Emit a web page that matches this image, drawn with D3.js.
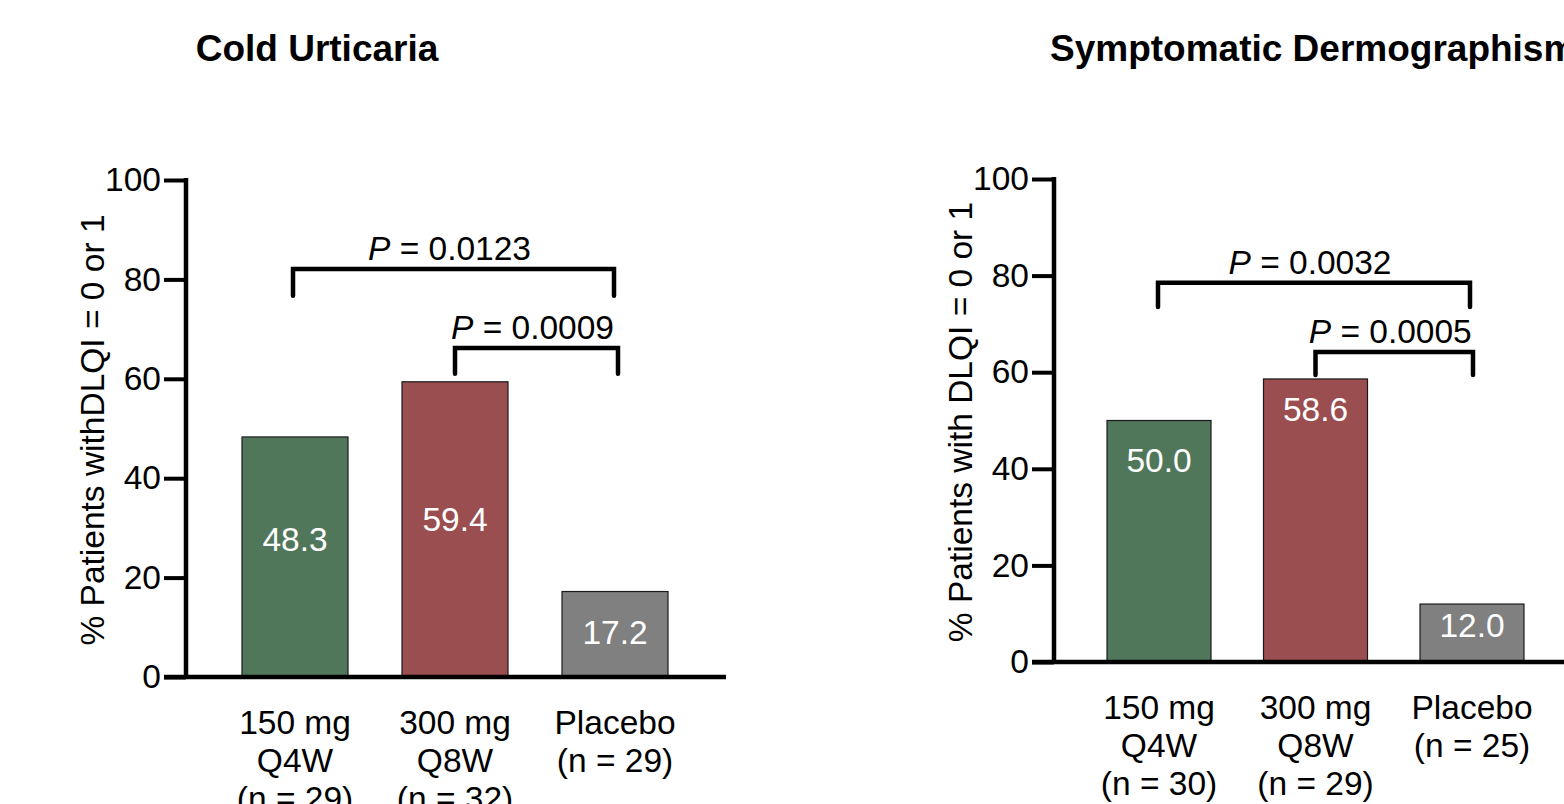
<!DOCTYPE html>
<html>
<head>
<meta charset="utf-8">
<script src="https://cdn.jsdelivr.net/npm/d3@7"></script>
<style>
  html, body { margin: 0; padding: 0; background: #fff; overflow: hidden; }
  svg { display: block; font-family: "Liberation Sans", Arial, sans-serif; }
</style>
</head>
<body>
<svg id="chart" width="1564" height="804"></svg>
<script>
// ---- Data ----
const panelTitles = ["Cold Urticaria", "Symptomatic Dermographism"];
const yAxisTitles = ["% Patients withDLQI = 0 or 1", "% Patients with DLQI = 0 or 1"];
const groups = ["150 mg Q4W", "300 mg Q8W", "Placebo"];
const categoryLabelsCU = [["150 mg", "Q4W", "(n = 29)"], ["300 mg", "Q8W", "(n = 32)"], ["Placebo", "(n = 29)"]];
const categoryLabelsSD = [["150 mg", "Q4W", "(n = 30)"], ["300 mg", "Q8W", "(n = 29)"], ["Placebo", "(n = 25)"]];
const valuesCU = [48.3, 59.4, 17.2];
const valuesSD = [50.0, 58.6, 12.0];
const yTicks = [0, 20, 40, 60, 80, 100];
const comparisonsCU = [
  { from: "150 mg Q4W", to: "Placebo", p: "0.0123" },
  { from: "300 mg Q8W", to: "Placebo", p: "0.0009" }
];
const comparisonsSD = [
  { from: "150 mg Q4W", to: "Placebo", p: "0.0032" },
  { from: "300 mg Q8W", to: "Placebo", p: "0.0005" }
];

// ---- Styles ----
const colors = ["#51775b", "#9a4e50", "#808080"];
const FONT = 33.5;

// ---- Layout (pixel/value placement, separate from data) ----
const panels = [
  {
    title: panelTitles[0], titleX: 317, titleAnchor: "middle",
    yTitle: yAxisTitles[0], yTitleX: 92, yTitleY: 430,
    values: valuesCU, cats: categoryLabelsCU, comps: comparisonsCU,
    axisX: 186, xEnd: 726, yTop: 180, yBottom: 677, tickLen: 22,
    bandRange: [215, 695], pad: 0.3375,
    labelAt: [27.6, 31.6, 9.0],
    brackets: [{ y: 82.1, leg: 76.7, dx: [-2, -1] }, { y: 66.2, leg: 61.0, dx: [0, 3] }],
    catBaseline: 734
  },
  {
    title: panelTitles[1], titleX: 1050, titleAnchor: "start",
    yTitle: yAxisTitles[1], yTitleX: 960, yTitleY: 422,
    values: valuesSD, cats: categoryLabelsSD, comps: comparisonsSD,
    axisX: 1054, xEnd: 1600, yTop: 179, yBottom: 662, tickLen: 22,
    bandRange: [1080.75, 1550.25], pad: 0.3355,
    labelAt: [41.8, 52.2, 7.5],
    brackets: [{ y: 78.5, leg: 73.5, dx: [-1, -2] }, { y: 64.2, leg: 59.4, dx: [0, 1] }],
    catBaseline: 719
  }
];

const svg = d3.select("#chart");

panels.forEach(P => {
  const g = svg.append("g");
  const y = d3.scaleLinear().domain([0, 100]).range([P.yBottom, P.yTop]);
  const x = d3.scaleBand().domain(groups).range(P.bandRange)
    .paddingInner(P.pad).paddingOuter(P.pad / 2);

  // Title
  g.append("text")
    .attr("x", P.titleX).attr("y", 61)
    .attr("text-anchor", P.titleAnchor)
    .attr("font-size", 37).attr("font-weight", "bold")
    .text(P.title);

  // Y axis title
  g.append("text")
    .attr("transform", `translate(${P.yTitleX},${P.yTitleY}) rotate(-90)`)
    .attr("text-anchor", "middle").attr("dominant-baseline", "central")
    .attr("font-size", FONT)
    .text(P.yTitle);

  // Bars
  g.selectAll("rect.bar").data(P.values).join("rect")
    .attr("class", "bar")
    .attr("x", (d, i) => x(groups[i]))
    .attr("width", x.bandwidth())
    .attr("y", d => y(d))
    .attr("height", d => y(0) - y(d))
    .attr("fill", (d, i) => colors[i])
    .attr("stroke", "#1a1a1a").attr("stroke-width", 1.2);

  // Value labels
  g.selectAll("text.val").data(P.values).join("text")
    .attr("class", "val")
    .attr("x", (d, i) => x(groups[i]) + x.bandwidth() / 2)
    .attr("y", (d, i) => y(P.labelAt[i]))
    .attr("text-anchor", "middle").attr("dominant-baseline", "central")
    .attr("font-size", FONT).attr("fill", "#fff")
    .text(d => d.toFixed(1));

  // Y axis
  const yAxis = d3.axisLeft(y).tickValues(yTicks).tickSize(P.tickLen).tickPadding(3);
  const ya = g.append("g").attr("transform", `translate(${P.axisX},0)`).call(yAxis);
  ya.select(".domain").remove();
  ya.selectAll(".tick line").attr("stroke", "#000").attr("stroke-width", 4);
  ya.selectAll(".tick text").attr("font-size", FONT).attr("fill", "#000")
    .attr("font-family", "Liberation Sans, Arial, sans-serif");
  g.append("line")
    .attr("x1", P.axisX).attr("x2", P.axisX)
    .attr("y1", y(100) - 2).attr("y2", y(0) + 2)
    .attr("stroke", "#000").attr("stroke-width", 4.5);

  // X axis
  g.append("line")
    .attr("x1", P.axisX - P.tickLen).attr("x2", P.xEnd)
    .attr("y1", y(0)).attr("y2", y(0))
    .attr("stroke", "#000").attr("stroke-width", 4.5);

  // Category labels
  P.cats.forEach((lines, i) => {
    const t = g.append("text")
      .attr("x", x(groups[i]) + x.bandwidth() / 2)
      .attr("y", P.catBaseline)
      .attr("text-anchor", "middle")
      .attr("font-size", FONT);
    lines.forEach((ln, j) => {
      t.append("tspan")
        .attr("x", x(groups[i]) + x.bandwidth() / 2)
        .attr("dy", j === 0 ? 0 : 38)
        .text(ln);
    });
  });

  // Significance brackets
  P.comps.forEach((c, k) => {
    const b = P.brackets[k];
    const x1 = x(c.from) + x.bandwidth() / 2 + b.dx[0];
    const x2 = x(c.to) + x.bandwidth() / 2 + b.dx[1];
    g.append("path")
      .attr("d", `M${x1},${y(b.leg)}V${y(b.y)}H${x2}V${y(b.leg)}`)
      .attr("fill", "none").attr("stroke", "#000").attr("stroke-width", 4.5)
      .attr("stroke-linejoin", "miter").attr("stroke-linecap", "round");
    const t = g.append("text")
      .attr("x", (x1 + x2) / 2 - 4)
      .attr("y", y(b.y) - 9)
      .attr("text-anchor", "middle")
      .attr("font-size", FONT);
    t.append("tspan").attr("font-style", "italic").text("P");
    t.append("tspan").text(" = " + c.p);
  });
});
</script>
</body>
</html>
